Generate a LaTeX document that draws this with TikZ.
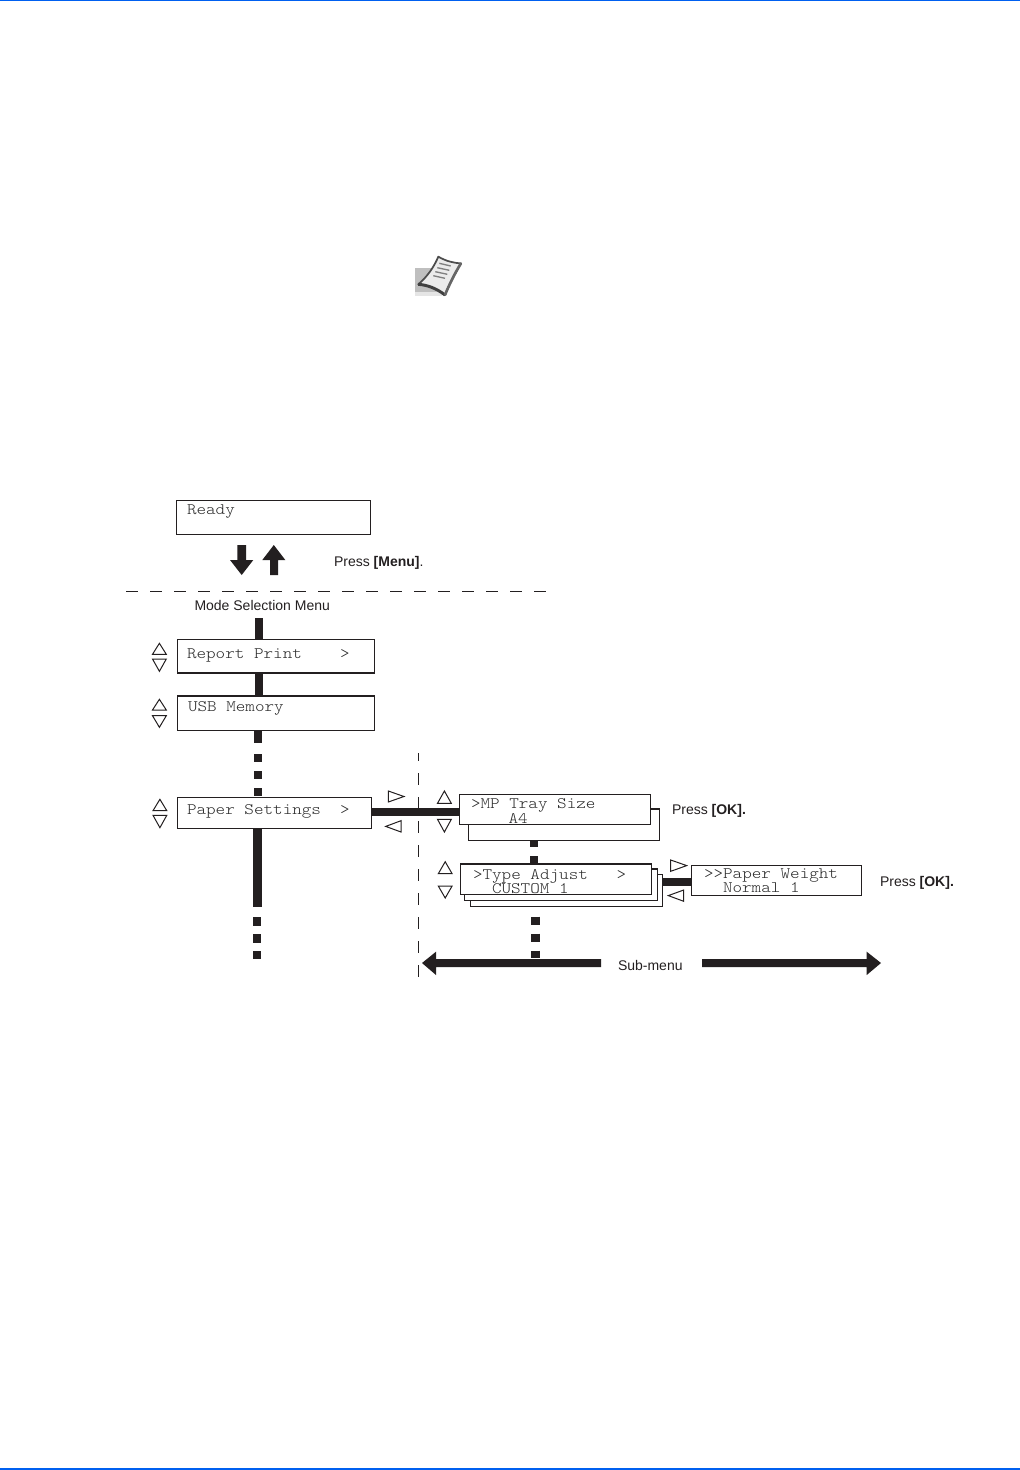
\documentclass[tikz,border=0pt]{standalone}
\usepackage{fontspec}
\setmainfont{Liberation Sans}
\newfontfamily\lcdfont{Latin Modern Mono Light}[FakeStretch=1.14]
\usetikzlibrary{calc}
\definecolor{ink}{HTML}{231F20}
\definecolor{lcdtext}{HTML}{2A2A2A}
\definecolor{pagebar}{HTML}{0060F0}
\newcommand{\lcdbox}[5]{\node[lcd,minimum width={(#4-#2)*0.75pt},minimum height={(#5-#3)*0.75pt}] (#1) at ({(#2+#4)/2},{(#3+#5)/2}) {};}
\newcommand{\triup}[3]{\draw[tri] (#1,#3) -- ({#1+6.9},#2) -- ({#1+13.8},#3) -- cycle;}
\newcommand{\tridown}[3]{\draw[tri] (#1,#2) -- ({#1+6.9},#3) -- ({#1+13.8},#2) -- cycle;}
\tikzset{
  lcd/.style={draw=ink,fill=white,line width=0.8pt,inner sep=0pt,outer sep=0pt},
  lcdtxt/.style={anchor=base west,inner sep=0pt,outer sep=0pt,text=lcdtext,font=\lcdfont\fontsize{12pt}{12pt}\selectfont},
  lbl/.style={anchor=base west,inner sep=0pt,outer sep=0pt,text=ink,font=\fontsize{10.5pt}{10.5pt}\selectfont},
  bar/.style={draw=ink,line width=6pt},
  tri/.style={draw=ink,line width=0.75pt,line join=miter,fill=white},
  guide/.style={draw=ink,line width=0.75pt,dash pattern=on 9pt off 9pt},
  blockarrow/.style={fill=ink,draw=none}
}
\begin{document}
\begin{tikzpicture}[x=0.75pt,y=-0.75pt]
\useasboundingbox (0,0) rectangle (1020,1470);
% page rules
\fill[pagebar] (0,0) rectangle (1020,1.5);
\fill[pagebar] (0,1467.7) rectangle (1020,1470);
% note icon
\fill[black!25] (415,267.7) rectangle (438,292);
\fill[black!10] (415,292) rectangle (442,295.7);
\draw[black!70,line width=1.3pt,fill=black!8,line join=round]
  (438.3,256.7) .. controls (446,261) and (453,263) .. (461,263.3)
  .. controls (455,273) and (449,285) .. (445,295)
  .. controls (436,288) and (427,285) .. (418.3,284.3)
  .. controls (427,277) and (434,267) .. (438.3,256.7) -- cycle;
\draw[black!75,line width=2.2pt] (418.3,284.3) .. controls (427,285) and (436,288) .. (445,295);
\draw[black!60,line width=2pt] (461,263.3) .. controls (455,273) and (449,285) .. (445,295);
\draw[black!50,line width=1pt]
  (439.3,263.3) -- (450.7,266) (437.3,267.7) -- (449.3,270.3)
  (435.3,271.7) -- (447.3,274.3) (433.3,275.7) -- (445,278.3);
% guides
\coordinate (hgA) at (126,591.7);
\coordinate (hgB) at (547,591.7);
\draw[guide] (hgA) -- (hgB);
\coordinate (vgA) at (418.3,753);
\coordinate (vgB) at (418.3,977);
\draw[guide,dash phase=3pt] (vgA) -- (vgB);
% column coordinates
\coordinate (colA) at (259,0);
\coordinate (colB) at (258,0);
\coordinate (colC) at (257.5,0);
\coordinate (colD) at (257,0);
\coordinate (colE) at (534,0);
\coordinate (colF) at (535.5,0);
\coordinate (rowA) at (0,812);
\coordinate (rowB) at (0,881.7);
\coordinate (modeEnd) at (259,618);
\coordinate (longEnd) at (257.5,906.7);
\coordinate (dotsA) at (257,917.3);
\coordinate (dotsB) at (257,959);
\coordinate (subEnd) at (535.5,958);
% boxes
\lcdbox{ready}{176.3}{500.3}{370.7}{534.7}
\lcdbox{report}{177.3}{639.3}{374.7}{673}
\lcdbox{usb}{177.3}{696}{374.7}{730.7}
\lcdbox{paper}{177.3}{797.3}{371.7}{828.3}
\lcdbox{mpback}{468.3}{809}{659.7}{840.3}
\lcdbox{mp}{459.3}{794.3}{650.3}{824.3}
\lcdbox{typeC}{470.3}{874.7}{662.7}{906.3}
\lcdbox{typeB}{464.3}{869}{657.7}{900.3}
\lcdbox{typeA}{460.3}{864}{651.7}{894.7}
\lcdbox{weight}{691.3}{865.3}{861.7}{895.3}
% connectors
\draw[bar] (modeEnd) -- (colA |- report.north);
\draw[bar] (colA |- report.south) -- (colA |- usb.north);
\draw[bar,dash pattern=on 9pt off 8.5pt on 5.8pt off 7pt on 5.8pt off 7pt on 6pt] (colB |- usb.south) -- (colB |- paper.north);
\draw[bar,line width=6.7pt] (colC |- paper.south) -- (longEnd);
\draw[bar,dash pattern=on 6.2pt off 6.5pt] (dotsA) -- (dotsB);
\draw[bar] (paper.east |- rowA) -- (mp.west |- rowA);
\draw[bar,dash pattern=on 4.8pt off 7pt on 5.8pt] (colE |- mpback.south) -- (colE |- typeA.north);
\draw[bar] (typeC.east |- rowB) -- (weight.west |- rowB);
\draw[bar,line width=6.7pt,dash pattern=on 0pt off 7.8pt on 6pt off 6.75pt on 6pt off 6.75pt on 5.5pt] (colF |- typeC.south) -- (subEnd);
% Ready arrows
\fill[blockarrow] (237.3,545) -- (246,545) -- (246,560) -- (253.3,560) -- (241.7,575) -- (230,560) -- (237.3,560) -- cycle;
\fill[blockarrow] (270,575) -- (278,575) -- (278,560) -- (285.3,560) -- (273.8,545) -- (262.3,560) -- (270,560) -- cycle;
% Sub-menu arrows
\fill[blockarrow] (601,959) -- (601,967) -- (436,967) -- (436,975) -- (422,963) -- (436,951.7) -- (436,959) -- cycle;
\fill[blockarrow] (702,959) -- (702,967) -- (866.7,967) -- (866.7,975) -- (881,963) -- (866.7,951.7) -- (866.7,959) -- cycle;
% up and down triangles
\triup{152.5}{643.3}{654.3} \tridown{152.5}{659}{671.3}
\triup{152.5}{699.3}{710} \tridown{152.5}{715.7}{727.3}
\triup{153}{799.3}{810.7} \tridown{153}{815.3}{827.7}
\triup{437.5}{791}{803.3} \tridown{437.5}{819.3}{832}
\triup{438.3}{861.7}{873.7} \tridown{438.3}{886}{898}
% left and right triangles
\draw[tri] (388.3,791) -- (404,796.5) -- (388.3,802) -- cycle;
\draw[tri] (401,820.7) -- (385.7,826.4) -- (401,832) -- cycle;
\draw[tri] (670.7,860) -- (686.7,865.6) -- (670.7,871.3) -- cycle;
\draw[tri] (683.7,890) -- (668.3,895.6) -- (683.7,901.3) -- cycle;
% LCD texts
\node[lcdtxt] (tReady) at (187,514.7) {Ready};
\node[lcdtxt] (tReport) at (187,658.7) {Report Print\ \ \ \ >};
\node[lcdtxt] (tUsb) at (188,711) {USB Memory};
\node[lcdtxt] (tPaper) at (187,814.7) {Paper Settings\ \ >};
\node[lcdtxt] (tMp) at (471,808) {>MP Tray Size};
\node[lcdtxt] (tMpB) at (508.5,823) {A4};
\node[lcdtxt] (tType) at (473,879) {>Type Adjust\ \ \ >};
\node[lcdtxt] (tTypeB) at (492,893) {CUSTOM 1};
\node[lcdtxt] (tWeight) at (704,878.7) {>>Paper Weight};
\node[lcdtxt] (tWeightB) at (723,892.7) {Normal 1};
% labels
\node[lbl] (pressMenu) at (334,566) {Press \textbf{[Menu]}.};
\node[lbl] (modeLbl) at (194.5,610) {Mode Selection Menu};
\node[lbl] (pressOkA) at (672,814.7) {Press \textbf{[OK].}};
\node[lbl] (pressOkB) at (880,886) {Press \textbf{[OK].}};
\node[lbl] (subLbl) at (618,970.7) {Sub-menu};
\end{tikzpicture}
\end{document}
